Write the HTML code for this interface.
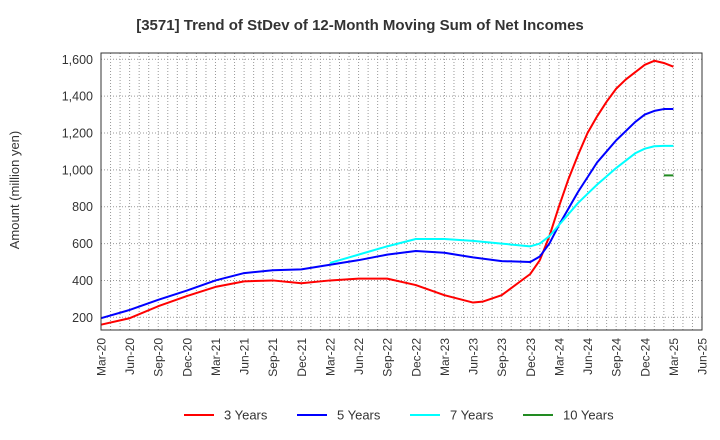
<!DOCTYPE html>
<html><head><meta charset="utf-8"><style>
body{margin:0;background:#fff;}
svg{display:block;font-family:"Liberation Sans",sans-serif;}
</style></head><body>
<svg id="c" width="720" height="440">
<text x="360" y="30" text-anchor="middle" font-size="15" font-weight="bold" fill="#333">[3571]  Trend of StDev of 12-Month Moving Sum of Net Incomes</text>
<text transform="translate(19,190) rotate(-90)" text-anchor="middle" font-size="13" fill="#333">Amount (million yen)</text>
<g id="grid"></g><g id="ylab"></g><g id="xlab"></g><g id="series"></g>
<rect x="101" y="53" width="601" height="277" fill="none" stroke="#333" stroke-width="1"/>
<g id="legend"></g>
</svg>
<script>
const xTickLabels=["Mar-20","Jun-20","Sep-20","Dec-20","Mar-21","Jun-21","Sep-21","Dec-21","Mar-22","Jun-22","Sep-22","Dec-22","Mar-23","Jun-23","Sep-23","Dec-23","Mar-24","Jun-24","Sep-24","Dec-24","Mar-25","Jun-25"];
const yTicks=[200,400,600,800,1000,1200,1400,1600];
const seriesNames=["3 Years","5 Years","7 Years","10 Years"];
const seriesColors=["#ff0000","#0000ff","#00ffff","#228b22"];
const m3=[0,3,6,9,12,15,18,21,24,27,30,33,36,39,40,42,45,46,47,48,49,50,51,52,53,54,55,56,57,58,59,60];
const v3=[160,195,260,315,365,395,400,385,400,410,410,375,320,280,285,320,435,510,640,800,950,1080,1200,1290,1370,1440,1490,1530,1570,1592,1580,1560];
const m5=[0,3,6,9,12,15,18,21,24,27,30,33,36,39,42,45,46,47,48,49,50,51,52,53,54,55,56,57,58,59,60];
const v5=[195,240,295,345,400,440,455,460,485,510,540,560,550,525,505,500,530,600,700,790,880,960,1040,1100,1160,1210,1260,1300,1320,1330,1330];
const m7=[24,27,30,33,36,39,42,45,46,47,48,49,50,51,52,53,54,55,56,57,58,59,60];
const v7=[495,540,585,625,625,615,600,585,600,640,700,760,820,870,920,965,1010,1050,1090,1115,1128,1130,1130];
const m10=[59,60];
const v10=[970,970];
const NS="http://www.w3.org/2000/svg";
const L=101,R=702,T=53,B=330;
const xs=m=>L+m*(R-L)/63;
const ys=v=>317.3-(v-200)*0.18429;
function mk(t,a,p){const e=document.createElementNS(NS,t);for(const k in a)e.setAttribute(k,a[k]);p.appendChild(e);return e;}
const g=document.getElementById('grid');
for(let m=1;m<63;m++){const l=mk('line',{x1:xs(m),x2:xs(m),y1:T,y2:B,stroke:'#999','stroke-dasharray':'1,2','stroke-width':1},g);

}
const yl=document.getElementById('ylab');
yTicks.forEach(v=>{const l=mk('line',{x1:L,x2:R,y1:ys(v),y2:ys(v),stroke:'#999','stroke-dasharray':'1,2'},g);


const t=mk('text',{x:93,y:ys(v)+4.5,'text-anchor':'end','font-size':12.5,fill:'#333'},yl);t.textContent=v.toLocaleString('en-US');

});
const xl=document.getElementById('xlab');
xTickLabels.forEach((s,i)=>{const x=xs(i*3);const t=mk('text',{transform:`translate(${x+4.5},338) rotate(-90)`,'text-anchor':'end','font-size':12,fill:'#333'},xl);t.textContent=s;

});
const sg=document.getElementById('series');
[[m3,v3],[m5,v5],[m7,v7],[m10,v10]].forEach((d,i)=>{const pts=d[0].map((m,j)=>xs(m)+','+ys(d[1][j])).join(' ');
const p=mk('polyline',{points:pts,fill:'none',stroke:seriesColors[i],'stroke-width':2,'stroke-linejoin':'round'},sg);

});
const lg=document.getElementById('legend');
seriesNames.forEach((s,i)=>{const x=184+i*113;const e=mk('g',{},lg);


mk('line',{x1:x,x2:x+30,y1:415,y2:415,stroke:seriesColors[i],'stroke-width':2},e);
const t=mk('text',{x:x+40,y:419.5,'font-size':13,fill:'#333'},e);t.textContent=s;});
</script>
</body></html>
